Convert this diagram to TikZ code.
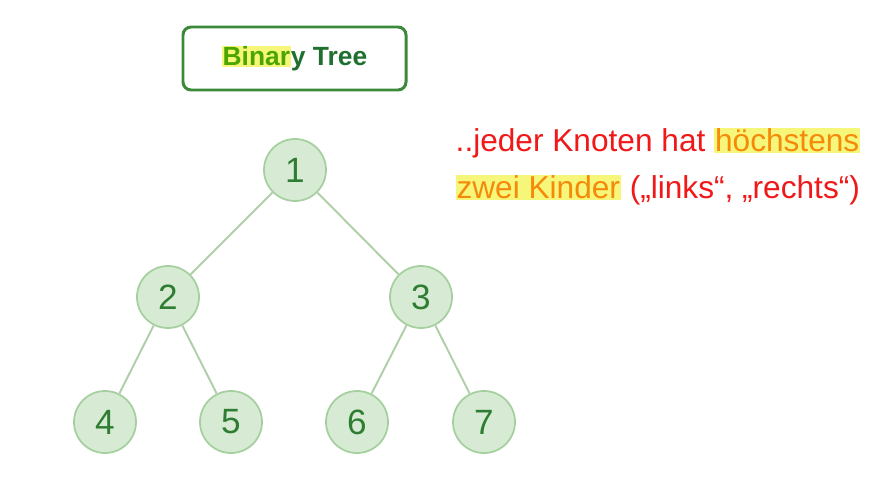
\documentclass[tikz,border=0pt]{standalone}
\usepackage{fontspec}
\setmainfont{Liberation Sans}
\usepackage{tikz}
\usetikzlibrary{positioning}

\definecolor{nodefill}{HTML}{D7EBD4}
\definecolor{nodeline}{HTML}{A6CFA0}
\definecolor{edgecol}{HTML}{AFCFA8}
\definecolor{numgreen}{HTML}{2E7D32}
\definecolor{boxgreen}{HTML}{3A8A3A}
\definecolor{titlegreen}{HTML}{1F6F2F}
\definecolor{hlyellow}{HTML}{F6F77A}
\definecolor{notered}{HTML}{F01818}
\definecolor{noteorange}{HTML}{F58A0A}

\newcommand{\hlword}[1]{{\setlength\fboxsep{0.5pt}\colorbox{hlyellow}{#1}}}

\begin{document}
\begin{tikzpicture}[thick,
  treenode/.style={circle, minimum size=1.24cm, inner sep=0pt, fill=nodefill, draw=nodeline, line width=1pt, text=numgreen, font=\fontsize{20}{24}\selectfont},
  treeedge/.style={edgecol, line width=1.1pt},
  note/.style={anchor=west, inner sep=0pt, text=notered, font=\fontsize{18}{22}\selectfont}]

  \useasboundingbox (0,0) rectangle (17.82,9.58);

  % Title
  \node[draw=boxgreen, line width=1.7pt, rounded corners=0.16cm, minimum width=4.46cm, minimum height=1.26cm, text=titlegreen, font=\bfseries\fontsize{15}{18}\selectfont] (title) at (5.89,8.41) {\hlword{\color{green!50!black!70!yellow}Binar}y Tree};

  % Nodes
  \node[treenode] (n1) at (5.90,6.18) {1};
  \node[treenode] (n2) at (3.36,3.64) {2};
  \node[treenode] (n3) at (8.42,3.64) {3};
  \node[treenode] (n4) at (2.10,1.14) {4};
  \node[treenode] (n5) at (4.62,1.14) {5};
  \node[treenode] (n6) at (7.14,1.14) {6};
  \node[treenode] (n7) at (9.68,1.14) {7};

  % Edges
  \draw[treeedge] (n1) -- (n2);
  \draw[treeedge] (n1) -- (n3);
  \draw[treeedge] (n2) -- (n4);
  \draw[treeedge] (n2) -- (n5);
  \draw[treeedge] (n3) -- (n6);
  \draw[treeedge] (n3) -- (n7);

  % Note
  \node[note] (line1) at (9.10,6.72) {..jeder Knoten hat \hlword{\color{noteorange}höchstens}};
  \node[note] (line2) at (9.10,5.78) {\hlword{\color{noteorange}zwei Kinder} („links“, „rechts“)};
\end{tikzpicture}
\end{document}
